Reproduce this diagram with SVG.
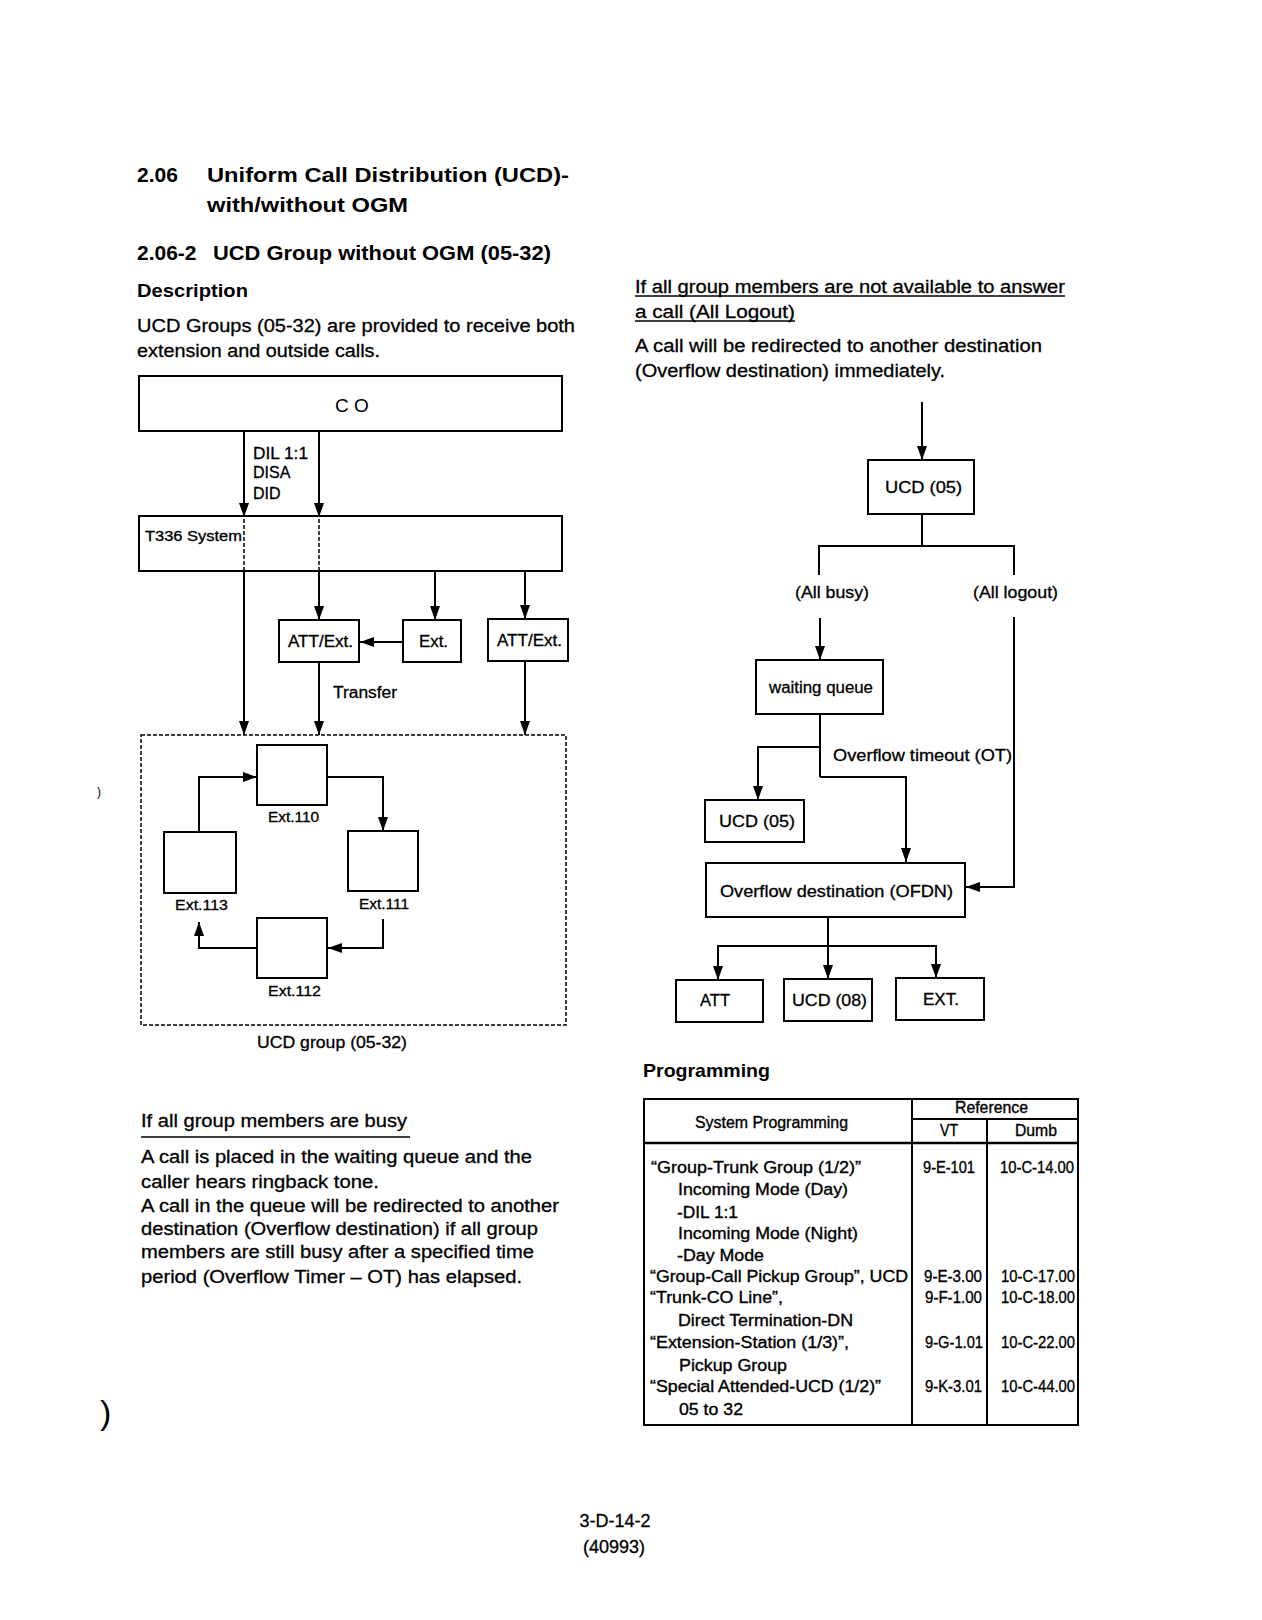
<svg xmlns="http://www.w3.org/2000/svg" width="1262" height="1620" viewBox="0 0 1262 1620">
<style>
text{font-family:"Liberation Sans",Arial,sans-serif;fill:#000}
.t{font-size:21px;font-weight:bold}
.b{font-size:18px;stroke:#000;stroke-width:0.3}
.hb{font-size:19px;font-weight:bold}
.l{font-size:16px;stroke:#000;stroke-width:0.3}
.s{font-size:14px;stroke:#000;stroke-width:0.3}
.tb{font-size:16px;stroke:#000;stroke-width:0.35}
.m{text-anchor:middle}
.box{fill:#fff;stroke:#000;stroke-width:2}
.ln{fill:none;stroke:#000;stroke-width:2}
.dash{fill:none;stroke:#000;stroke-width:1.5;stroke-dasharray:4 2}
.u{stroke:#000;stroke-width:1.5}
</style>
<defs>
<marker id="ah" markerUnits="userSpaceOnUse" markerWidth="15" markerHeight="10" refX="14" refY="5" orient="auto"><path d="M0,0 L14,5 L0,10 z" fill="#000"/></marker>
</defs>
<rect width="1262" height="1620" fill="#fff"/>

<g id="headings">
<text class="t" x="137" y="182">2.06</text>
<text class="t" x="207" y="182" textLength="362" lengthAdjust="spacingAndGlyphs">Uniform Call Distribution (UCD)-</text>
<text class="t" x="207" y="212" textLength="201" lengthAdjust="spacingAndGlyphs">with/without OGM</text>
<text class="t" x="137" y="260">2.06-2</text>
<text class="t" x="213" y="260" textLength="338" lengthAdjust="spacingAndGlyphs">UCD Group without OGM (05-32)</text>
<text class="hb" x="137" y="297" textLength="111" lengthAdjust="spacingAndGlyphs">Description</text>
<text class="b" x="137" y="332" textLength="438" lengthAdjust="spacingAndGlyphs">UCD Groups (05-32) are provided to receive both</text>
<text class="b" x="137" y="357" textLength="243" lengthAdjust="spacingAndGlyphs">extension and outside calls.</text>
</g>

<g id="right-text">
<text class="b" x="635" y="293" textLength="430" lengthAdjust="spacingAndGlyphs">If all group members are not available to answer</text>
<line class="u" x1="635" y1="296" x2="1065" y2="296"/>
<text class="b" x="635" y="318" textLength="160" lengthAdjust="spacingAndGlyphs">a call (All Logout)</text>
<line class="u" x1="635" y1="321" x2="795" y2="321"/>
<text class="b" x="635" y="352" textLength="407" lengthAdjust="spacingAndGlyphs">A call will be redirected to another destination</text>
<text class="b" x="635" y="377" textLength="310" lengthAdjust="spacingAndGlyphs">(Overflow destination) immediately.</text>
</g>

<g id="left-lower-text">
<text class="b" x="141" y="1127" textLength="266" lengthAdjust="spacingAndGlyphs">If all group members are busy</text>
<line class="u" x1="141" y1="1137" x2="410" y2="1137"/>
<text class="b" x="141" y="1163" textLength="391" lengthAdjust="spacingAndGlyphs">A call is placed in the waiting queue and the</text>
<text class="b" x="141" y="1188" textLength="238" lengthAdjust="spacingAndGlyphs">caller hears ringback tone.</text>
<text class="b" x="141" y="1212" textLength="418" lengthAdjust="spacingAndGlyphs">A call in the queue will be redirected to another</text>
<text class="b" x="141" y="1235" textLength="397" lengthAdjust="spacingAndGlyphs">destination (Overflow destination) if all group</text>
<text class="b" x="141" y="1258" textLength="393" lengthAdjust="spacingAndGlyphs">members are still busy after a specified time</text>
<text class="b" x="141" y="1283" textLength="381" lengthAdjust="spacingAndGlyphs">period (Overflow Timer – OT) has elapsed.</text>
</g>

<g id="connectors">
<line class="ln" x1="244" y1="431" x2="244" y2="517" marker-end="url(#ah)"/>
<line class="ln" x1="319" y1="431" x2="319" y2="517" marker-end="url(#ah)"/>
<line class="dash" x1="244" y1="519" x2="244" y2="571"/>
<line class="dash" x1="319" y1="519" x2="319" y2="571"/>
<line class="ln" x1="244" y1="571" x2="244" y2="735" marker-end="url(#ah)"/>
<line class="ln" x1="319" y1="571" x2="319" y2="620" marker-end="url(#ah)"/>
<line class="ln" x1="435" y1="571" x2="435" y2="620" marker-end="url(#ah)"/>
<line class="ln" x1="525" y1="571" x2="525" y2="619" marker-end="url(#ah)"/>
<line class="ln" x1="403" y1="642" x2="360" y2="642" marker-end="url(#ah)"/>
<line class="ln" x1="319" y1="662" x2="319" y2="735" marker-end="url(#ah)"/>
<line class="ln" x1="525" y1="661" x2="525" y2="735" marker-end="url(#ah)"/>
<polyline class="ln" points="199,832 199,777 257,777" marker-end="url(#ah)"/>
<polyline class="ln" points="327,777 383,777 383,831" marker-end="url(#ah)"/>
<polyline class="ln" points="383,919 383,948 328,948" marker-end="url(#ah)"/>
<polyline class="ln" points="257,948 199,948 199,922" marker-end="url(#ah)"/>
<line class="ln" x1="922" y1="402" x2="922" y2="460" marker-end="url(#ah)"/>
<line class="ln" x1="922" y1="514" x2="922" y2="546"/>
<polyline class="ln" points="819,575 819,546 1014,546 1014,575"/>
<line class="ln" x1="820" y1="618" x2="820" y2="660" marker-end="url(#ah)"/>
<polyline class="ln" points="1014,617 1014,887 966,887" marker-end="url(#ah)"/>
<line class="ln" x1="820" y1="714" x2="820" y2="777"/>
<polyline class="ln" points="820,747 758,747 758,800" marker-end="url(#ah)"/>
<polyline class="ln" points="820,777 906,777 906,862" marker-end="url(#ah)"/>
<line class="ln" x1="828" y1="917" x2="828" y2="979" marker-end="url(#ah)"/>
<polyline class="ln" points="718,980 718,946 936,946 936,978" marker-end="url(#ah)"/>
<line class="ln" x1="718" y1="946" x2="718" y2="980" marker-end="url(#ah)"/>
</g>

<g id="node-co"><rect class="box" x="139" y="376" width="423" height="55"/><text x="352" y="412" class="m" style="font-size:19px">C O</text></g>
<g id="label-dil">
<text class="l" x="253" y="459" textLength="55" lengthAdjust="spacingAndGlyphs">DIL 1:1</text>
<text class="l" x="253" y="478">DISA</text>
<text class="l" x="253" y="499">DID</text>
</g>
<g id="node-t336"><rect x="139" y="516" width="423" height="55" fill="none" stroke="#000" stroke-width="2"/><text class="s" x="145" y="541" textLength="97" lengthAdjust="spacingAndGlyphs">T336 System</text></g>
<g id="node-att1"><rect class="box" x="279" y="620" width="80" height="42"/><text class="l" x="288" y="647" textLength="65" lengthAdjust="spacingAndGlyphs">ATT/Ext.</text></g>
<g id="node-ext"><rect class="box" x="403" y="620" width="58" height="42"/><text class="l" x="419" y="647" textLength="29" lengthAdjust="spacingAndGlyphs">Ext.</text></g>
<g id="node-att2"><rect class="box" x="488" y="619" width="80" height="42"/><text class="l" x="497" y="646" textLength="65" lengthAdjust="spacingAndGlyphs">ATT/Ext.</text></g>
<g id="label-transfer"><text class="l" x="333" y="698" textLength="64" lengthAdjust="spacingAndGlyphs">Transfer</text></g>

<g id="node-ucd-group"><rect class="dash" x="141" y="735" width="425" height="290"/><text class="l" x="257" y="1048" textLength="150" lengthAdjust="spacingAndGlyphs">UCD group (05-32)</text></g>
<g id="node-ext110"><rect class="box" x="257" y="745" width="70" height="60"/><text class="s" x="268" y="822" textLength="51" lengthAdjust="spacingAndGlyphs">Ext.110</text></g>
<g id="node-ext113"><rect class="box" x="164" y="832" width="72" height="61"/><text class="s" x="175" y="910" textLength="53" lengthAdjust="spacingAndGlyphs">Ext.113</text></g>
<g id="node-ext111"><rect class="box" x="348" y="831" width="70" height="60"/><text class="s" x="359" y="909" textLength="50" lengthAdjust="spacingAndGlyphs">Ext.111</text></g>
<g id="node-ext112"><rect class="box" x="257" y="918" width="70" height="60"/><text class="s" x="268" y="996" textLength="53" lengthAdjust="spacingAndGlyphs">Ext.112</text></g>

<g id="node-ucd05a"><rect class="box" x="868" y="460" width="106" height="54"/><text class="l" x="885" y="493" textLength="77" lengthAdjust="spacingAndGlyphs">UCD (05)</text></g>
<g id="label-allbusy"><text class="l" x="795" y="598" textLength="74" lengthAdjust="spacingAndGlyphs">(All busy)</text></g>
<g id="label-alllogout"><text class="l" x="973" y="598" textLength="85" lengthAdjust="spacingAndGlyphs">(All logout)</text></g>
<g id="node-queue"><rect class="box" x="756" y="660" width="127" height="54"/><text class="l" x="769" y="693" textLength="104" lengthAdjust="spacingAndGlyphs">waiting queue</text></g>
<g id="label-ot"><text class="l" x="833" y="761" textLength="179" lengthAdjust="spacingAndGlyphs">Overflow timeout (OT)</text></g>
<g id="node-ucd05b"><rect class="box" x="705" y="800" width="99" height="42"/><text class="l" x="719" y="827" textLength="76" lengthAdjust="spacingAndGlyphs">UCD (05)</text></g>
<g id="node-ofdn"><rect class="box" x="706" y="863" width="259" height="54"/><text class="l" x="720" y="897" textLength="233" lengthAdjust="spacingAndGlyphs">Overflow destination (OFDN)</text></g>
<g id="node-att"><rect class="box" x="676" y="980" width="87" height="42"/><text class="l" x="700" y="1006" textLength="30" lengthAdjust="spacingAndGlyphs">ATT</text></g>
<g id="node-ucd08"><rect class="box" x="784" y="979" width="88" height="42"/><text class="l" x="792" y="1006" textLength="75" lengthAdjust="spacingAndGlyphs">UCD (08)</text></g>
<g id="node-ext-dest"><rect class="box" x="896" y="978" width="88" height="42"/><text class="l" x="923" y="1005" textLength="36" lengthAdjust="spacingAndGlyphs">EXT.</text></g>

<g id="programming">
<text class="hb" x="643" y="1077" textLength="127" lengthAdjust="spacingAndGlyphs">Programming</text>
<rect x="644" y="1099" width="434" height="326" fill="none" stroke="#000" stroke-width="2"/>
<line class="ln" x1="912" y1="1099" x2="912" y2="1425"/>
<line class="ln" x1="987" y1="1119" x2="987" y2="1425"/>
<line class="ln" x1="912" y1="1119" x2="1078" y2="1119"/>
<line x1="644" y1="1143" x2="1078" y2="1143" stroke="#000" stroke-width="2.5"/>
<text class="tb" x="695" y="1128" textLength="153" lengthAdjust="spacingAndGlyphs">System Programming</text>
<text class="tb" x="955" y="1113" textLength="73" lengthAdjust="spacingAndGlyphs">Reference</text>
<text class="tb" x="940" y="1136" textLength="18" lengthAdjust="spacingAndGlyphs">VT</text>
<text class="tb" x="1015" y="1136" textLength="42" lengthAdjust="spacingAndGlyphs">Dumb</text>

<text class="tb" x="651" y="1173" textLength="210" lengthAdjust="spacingAndGlyphs">“Group-Trunk Group (1/2)”</text>
<text class="tb" x="678" y="1195" textLength="170" lengthAdjust="spacingAndGlyphs">Incoming Mode (Day)</text>
<text class="tb" x="677" y="1218" textLength="61" lengthAdjust="spacingAndGlyphs">-DIL 1:1</text>
<text class="tb" x="678" y="1239" textLength="180" lengthAdjust="spacingAndGlyphs">Incoming Mode (Night)</text>
<text class="tb" x="677" y="1261" textLength="87" lengthAdjust="spacingAndGlyphs">-Day Mode</text>
<text class="tb" x="650" y="1282" textLength="258" lengthAdjust="spacingAndGlyphs">“Group-Call Pickup Group”, UCD</text>
<text class="tb" x="650" y="1303" textLength="133" lengthAdjust="spacingAndGlyphs">“Trunk-CO Line”,</text>
<text class="tb" x="678" y="1326" textLength="175" lengthAdjust="spacingAndGlyphs">Direct Termination-DN</text>
<text class="tb" x="650" y="1348" textLength="199" lengthAdjust="spacingAndGlyphs">“Extension-Station (1/3)”,</text>
<text class="tb" x="679" y="1371" textLength="108" lengthAdjust="spacingAndGlyphs">Pickup Group</text>
<text class="tb" x="650" y="1392" textLength="231" lengthAdjust="spacingAndGlyphs">“Special Attended-UCD (1/2)”</text>
<text class="tb" x="679" y="1415" textLength="64" lengthAdjust="spacingAndGlyphs">05 to 32</text>

<text class="tb" x="923" y="1173" textLength="52" lengthAdjust="spacingAndGlyphs">9-E-101</text>
<text class="tb" x="1000" y="1173" textLength="74" lengthAdjust="spacingAndGlyphs">10-C-14.00</text>
<text class="tb" x="924" y="1282" textLength="58" lengthAdjust="spacingAndGlyphs">9-E-3.00</text>
<text class="tb" x="1001" y="1282" textLength="74" lengthAdjust="spacingAndGlyphs">10-C-17.00</text>
<text class="tb" x="925" y="1303" textLength="57" lengthAdjust="spacingAndGlyphs">9-F-1.00</text>
<text class="tb" x="1001" y="1303" textLength="74" lengthAdjust="spacingAndGlyphs">10-C-18.00</text>
<text class="tb" x="925" y="1348" textLength="58" lengthAdjust="spacingAndGlyphs">9-G-1.01</text>
<text class="tb" x="1001" y="1348" textLength="74" lengthAdjust="spacingAndGlyphs">10-C-22.00</text>
<text class="tb" x="925" y="1392" textLength="57" lengthAdjust="spacingAndGlyphs">9-K-3.01</text>
<text class="tb" x="1001" y="1392" textLength="74" lengthAdjust="spacingAndGlyphs">10-C-44.00</text>
</g>

<g id="footer">
<text class="b m" x="615" y="1527">3-D-14-2</text>
<text class="b m" x="614" y="1553">(40993)</text>
<text x="100" y="1424" style="font-size:34px">)</text>
<text x="97" y="796" style="font-size:12px">)</text>
</g>
</svg>
